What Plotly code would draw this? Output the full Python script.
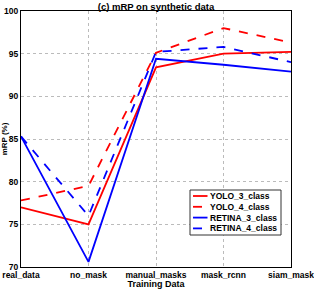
import plotly.graph_objects as go

categories = ["real_data", "no_mask", "manual_masks", "mask_rcnn", "siam_mask"]
yolo_3 = [77.0, 75.0, 93.4, 95.0, 95.2]
yolo_4 = [77.8, 79.5, 95.1, 98.0, 96.3]
retina_3 = [85.3, 70.6, 94.4, 93.7, 92.9]
retina_4 = [85.3, 76.0, 95.2, 95.8, 94.0]

series = [
    ("YOLO_3_class", yolo_3, "#ff0000", "solid"),
    ("YOLO_4_class", yolo_4, "#ff0000", "dash"),
    ("RETINA_3_class", retina_3, "#0000ff", "solid"),
    ("RETINA_4_class", retina_4, "#0000ff", "dash"),
]

FAM = "Liberation Sans, Arial, sans-serif"
W, H = 314, 289
ML, MR, MT, MB = 21, 23, 11, 22
PW, PH = W - ML - MR, H - MT - MB

fig = go.Figure()
for name, vals, col, dash in series:
    fig.add_trace(go.Scatter(x=list(range(len(categories))), y=vals, name=name, mode="lines",
                             line=dict(color=col, dash=dash, width=1.8), showlegend=False))

# custom compact legend (MATLAB style)
def px_x(p):
    return (p - ML) / PW

def px_y(p):
    return (H - MB - p) / PH

shapes = [dict(type="rect", xref="paper", yref="paper", x0=px_x(190), x1=px_x(281),
               y0=px_y(235), y1=px_y(190), line=dict(color="#333", width=1), fillcolor="white", layer="above")]
annotations = []
for i, (name, vals, col, dash) in enumerate(series):
    yy = px_y(196 + 10.8 * i)
    shapes.append(dict(type="line", xref="paper", yref="paper", x0=px_x(193), x1=px_x(207.5),
                       y0=yy, y1=yy, line=dict(color=col, dash="dash" if dash == "dash" else "solid", width=1.8),
                       layer="above"))
    annotations.append(dict(xref="paper", yref="paper", x=px_x(208), y=yy, text=name, showarrow=False,
                            xanchor="left", yanchor="middle",
                            font=dict(family=FAM, size=8.5, color="black", weight="bold")))

fig.update_layout(
    width=W, height=H,
    margin=dict(l=ML, r=MR, t=MT, b=MB, autoexpand=False),
    paper_bgcolor="white", plot_bgcolor="white",
    font=dict(family=FAM, size=8, color="black", weight="bold"),
    title=dict(text="(c) mRP on synthetic data", x=156 / W, xanchor="center", y=0.99, yanchor="top",
               font=dict(family=FAM, size=9.5, weight="bold", color="black")),
    showlegend=False,
    shapes=shapes,
    annotations=annotations,
)
fig.update_xaxes(range=[0, 4], tickvals=list(range(len(categories))), ticktext=categories,
                 showgrid=True, gridcolor="#bbbbbb", griddash="dot", gridwidth=1,
                 showline=True, linecolor="black", mirror=True, linewidth=1,
                 ticks="", tickfont=dict(family=FAM, size=8.5, weight="bold"),
                 ticklabeloverflow="allow", ticklabelstandoff=0, automargin=False,
                 title=dict(text="Training Data", standoff=3, font=dict(family=FAM, size=9, weight="bold")),
                 zeroline=False)
fig.update_yaxes(range=[70, 100], dtick=5, showgrid=True, gridcolor="#bbbbbb", griddash="dot", gridwidth=1,
                 showline=True, linecolor="black", mirror=True, linewidth=1,
                 ticks="", tickfont=dict(family=FAM, size=8.5, weight="bold"),
                 ticklabeloverflow="allow", automargin=False,
                 title=dict(text="mRP (%)", standoff=0, font=dict(family=FAM, size=8, weight="bold")),
                 zeroline=False)

fig.write_html("out.html", config={"displayModeBar": False},
               post_script="document.body.style.margin='0';document.body.style.overflow='hidden';")
